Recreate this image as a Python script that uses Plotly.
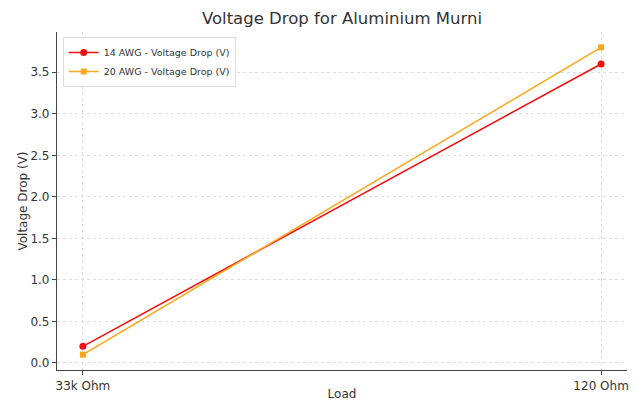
import plotly.graph_objects as go

loads = ["33k Ohm", "120 Ohm"]
awg14 = [0.2, 3.6]
awg20 = [0.1, 3.8]
xpos = [0, 1]

fig = go.Figure()
fig.add_trace(go.Scatter(x=xpos, y=awg14, mode="lines+markers", name="14 AWG - Voltage Drop (V)",
                         line=dict(color="#f01010", width=1.6), marker=dict(symbol="circle", size=7, color="#f01010")))
fig.add_trace(go.Scatter(x=xpos, y=awg20, mode="lines+markers", name="20 AWG - Voltage Drop (V)",
                         line=dict(color="#f8a81c", width=1.6), marker=dict(symbol="square", size=6, color="#f8a81c")))

font = "DejaVu Sans"
fig.update_layout(
    width=637, height=401,
    margin=dict(l=57, r=10, t=32, b=31, autoexpand=False),
    paper_bgcolor="white", plot_bgcolor="white",
    font=dict(family=font, size=12, color="#333333"),
    title=dict(text="Voltage Drop for Aluminium Murni", x=0.5, xref="paper", xanchor="center", y=0.968, yanchor="top",
               font=dict(size=16.5, color="#333333"), automargin=False),
    showlegend=True,
    legend=dict(x=0.01, y=0.985, xanchor="left", yanchor="top", bgcolor="rgba(255,255,255,0.8)",
                bordercolor="#dddddd", borderwidth=1, font=dict(size=9.5, color="#333333"),
                tracegroupgap=0, itemwidth=30),
    xaxis=dict(range=[-0.05, 1.05], tickmode="array", tickvals=xpos, ticktext=loads, automargin=False,
               showgrid=True, gridcolor="#dddddd", griddash="dot", gridwidth=1,
               showline=True, linecolor="#444444", linewidth=1.2, zeroline=False,
               ticks="outside", ticklen=4, tickcolor="#444444",
               title=dict(text="Load", standoff=4, font=dict(size=12))),
    yaxis=dict(range=[-0.085, 3.985], tickmode="array", tickvals=[0, 0.5, 1, 1.5, 2, 2.5, 3, 3.5],
               ticktext=["0.0", "0.5", "1.0", "1.5", "2.0", "2.5", "3.0", "3.5"], automargin=False,
               showgrid=True, gridcolor="#dddddd", griddash="dot", gridwidth=1,
               showline=True, linecolor="#444444", linewidth=1.2, zeroline=False,
               ticks="outside", ticklen=4, tickcolor="#444444",
               title=dict(text="Voltage Drop (V)", standoff=0, font=dict(size=12))),
)
fig.write_html("out.html", config={"displayModeBar": False})

with open("out.html", "r", encoding="utf-8") as f:
    html = f.read()
html = html.replace("<head>", "<head><style>html,body{margin:0;padding:0;overflow:hidden}</style>", 1)
with open("out.html", "w", encoding="utf-8") as f:
    f.write(html)
